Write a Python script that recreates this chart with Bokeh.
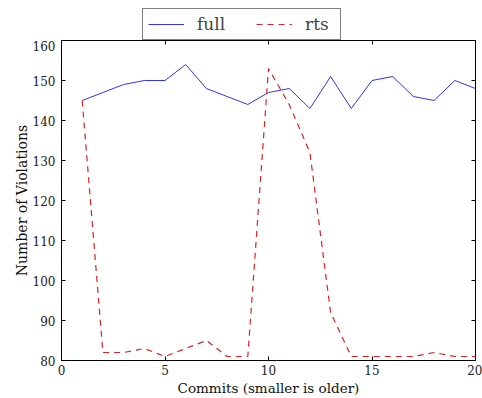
from bokeh.plotting import figure
from bokeh.layouts import column
from bokeh.models import Range1d, FixedTicker, LinearAxis, Legend, LegendItem
from bokeh.embed import file_html
from bokeh.resources import INLINE

commits = list(range(1, 21))
full = [145, 147, 149, 150, 150, 154, 148, 146, 144, 147, 148, 143, 151, 143, 150, 151, 146, 145, 150, 148]
rts = [145, 82, 82, 83, 81, 83, 85, 81, 81, 153, 144, 132, 92, 81, 81, 81, 81, 82, 81, 81]
x_ticks = [0, 5, 10, 15, 20]
y_ticks = [80, 90, 100, 110, 120, 130, 140, 150, 160]
series_names = ["full", "rts"]

FONT = "DejaVu Serif"
FULL_STYLE = dict(line_color="#3030ff", line_width=1)
RTS_STYLE = dict(line_color="#dd2020", line_width=1.2, line_dash="6 5")

# ---- legend strip above the axes (its own lines lie outside its view) ----
lg = figure(width=482, height=40, output_backend="svg", toolbar_location=None,
            x_range=Range1d(-10, -9), y_range=Range1d(-10, -9),
            min_border_left=0, min_border_right=0, min_border_top=0, min_border_bottom=0)
lg.title.visible = False
lg.axis.visible = False
lg.grid.visible = False
lg.outline_line_color = None
lg.background_fill_color = "white"
lg.border_fill_color = "white"
d_full = lg.line(commits, full, **FULL_STYLE)
d_rts = lg.line(commits, rts, **RTS_STYLE)
legend = Legend(items=[LegendItem(label=series_names[0], renderers=[d_full]),
                       LegendItem(label=series_names[1], renderers=[d_rts])],
                orientation="horizontal", location=(81, 0),
                label_text_font=FONT, label_text_font_size="17px",
                glyph_width=36, glyph_height=20, label_standoff=13, spacing=29,
                label_width=30, padding=5, margin=0,
                border_line_color="black", border_line_width=1,
                background_fill_color="white", background_fill_alpha=1)
lg.add_layout(legend, "center")

# ---- main axes ----
p = figure(width=482, height=358, output_backend="svg", toolbar_location=None,
           x_range=Range1d(0, 20), y_range=Range1d(80, 160),
           min_border_left=61, min_border_right=7, min_border_top=0, min_border_bottom=38)
p.title.visible = False
p.background_fill_color = "white"
p.border_fill_color = "white"
p.outline_line_color = "black"
p.outline_line_width = 1
p.grid.visible = False

p.line(commits, full, **FULL_STYLE)
p.line(commits, rts, **RTS_STYLE)

for ax in (p.xaxis[0], p.yaxis[0]):
    ax.major_tick_in = 4
    ax.major_tick_out = 0
    ax.minor_tick_line_color = None
    ax.axis_line_color = "black"
    ax.major_tick_line_color = "black"
    ax.major_label_text_font = FONT
    ax.major_label_text_font_size = "12px"
    ax.major_label_text_color = "#222222"
    ax.axis_label_text_font = FONT
    ax.axis_label_text_font_size = "13.5px"
    ax.axis_label_text_font_style = "normal"
    ax.axis_label_text_color = "#111111"

p.xaxis[0].ticker = FixedTicker(ticks=x_ticks)
p.yaxis[0].ticker = FixedTicker(ticks=y_ticks)
p.xaxis[0].axis_label = "Commits (smaller is older)"
p.yaxis[0].axis_label = "Number of Violations"
p.yaxis[0].axis_label_text_font_size = "14px"
p.xaxis[0].major_label_standoff = 4
p.xaxis[0].axis_label_standoff = 2
p.yaxis[0].major_label_standoff = 6
p.yaxis[0].axis_label_standoff = 0

top = LinearAxis(ticker=FixedTicker(ticks=x_ticks))
right = LinearAxis(ticker=FixedTicker(ticks=y_ticks))
for ax in (top, right):
    ax.major_tick_in = 4
    ax.major_tick_out = 0
    ax.minor_tick_line_color = None
    ax.major_label_text_font_size = "1px"
    ax.major_label_text_color = None
    ax.major_label_standoff = 0
    ax.axis_line_color = "black"
p.add_layout(top, "above")
p.add_layout(right, "right")

layout = column(lg, p, spacing=0)
open("out.html", "w").write(file_html(layout, INLINE))
